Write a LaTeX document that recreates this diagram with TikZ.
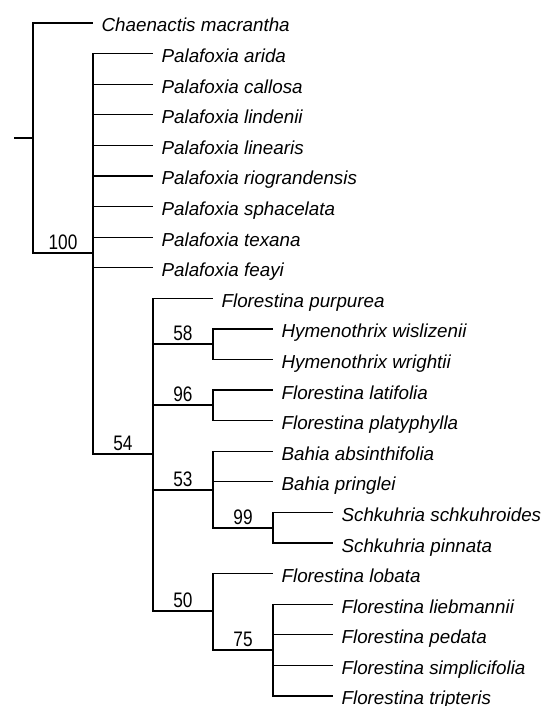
\documentclass[tikz,border=0pt]{standalone}
\usepackage{fontspec}
\setmainfont{Liberation Sans}
\newfontfamily\supfont[FakeStretch=0.82]{Liberation Sans}
\usepackage{tikz}

\begin{document}
\begin{tikzpicture}[x=1pt, y=-1pt, line width=1.2pt,
  taxon/.style={anchor=west, inner xsep=8pt, inner ysep=0pt,
    text height=18pt, text depth=0pt,
    font=\fontsize{18.8}{20}\selectfont\itshape},
  support/.style={anchor=base, inner sep=0pt,
    font=\supfont\fontsize{21}{22}\selectfont}]
\useasboundingbox (0,0) rectangle (546,706);
% ---- taxa: one row every 30.59 units, tip at the parent depth + 60 ----
\foreach \i/\tip/\name in {0/93/Chaenactis macrantha,
    1/153/Palafoxia arida, 2/153/Palafoxia callosa,
    3/153/Palafoxia lindenii, 4/153/Palafoxia linearis,
    5/153/Palafoxia riograndensis, 6/153/Palafoxia sphacelata,
    7/153/Palafoxia texana, 8/153/Palafoxia feayi,
    9/213/Florestina purpurea,
    10/273/Hymenothrix wislizenii, 11/273/Hymenothrix wrightii,
    12/273/Florestina latifolia, 13/273/Florestina platyphylla,
    14/273/Bahia absinthifolia, 15/273/Bahia pringlei,
    16/333/Schkuhria schkuhroides, 17/333/Schkuhria pinnata,
    18/273/Florestina lobata,
    19/333/Florestina liebmannii, 20/333/Florestina pedata,
    21/333/Florestina simplicifolia, 22/333/Florestina tripteris}{
  \node[taxon] (l\i) at (\tip,{23+30.59*\i}) {\name};}
% ---- internal nodes ----
\coordinate (base) at (14,138);
\coordinate (root) at (33,138);
\coordinate (n100) at (93,253);
\coordinate (n54) at (153,454);
\coordinate (n58) at (213,344);
\coordinate (n96) at (213,405);
\coordinate (n53) at (213,490);
\coordinate (n99) at (273,528);
\coordinate (n50) at (213,611);
\coordinate (n75) at (273,650);
% ---- branches ----
\draw (base) -- (root);
\draw (root) |- (l0);
\draw (root) |- (n100);
\foreach \c in {l1,l2,l3,l4,l5,l6,l7,l8,n54}
  \draw (n100) |- (\c);
\foreach \c in {l9,n58,n96,n53,n50}
  \draw (n54) |- (\c);
\draw (n58) |- (l10); \draw (n58) |- (l11);
\draw (n96) |- (l12); \draw (n96) |- (l13);
\foreach \c in {l14,l15,n99}
  \draw (n53) |- (\c);
\draw (n99) |- (l16); \draw (n99) |- (l17);
\draw (n50) |- (l18); \draw (n50) |- (n75);
\foreach \c in {l19,l20,l21,l22}
  \draw (n75) |- (\c);
% ---- bootstrap values, centred over the stem ----
\foreach \x/\y/\v in {63/253/100, 123/454/54, 183/344/58, 183/405/96,
    183/490/53, 243/528/99, 183/611/50, 243/650/75}
  \node[support] (s\v) at (\x,{\y-3.5}) {\v};
\end{tikzpicture}
\end{document}
